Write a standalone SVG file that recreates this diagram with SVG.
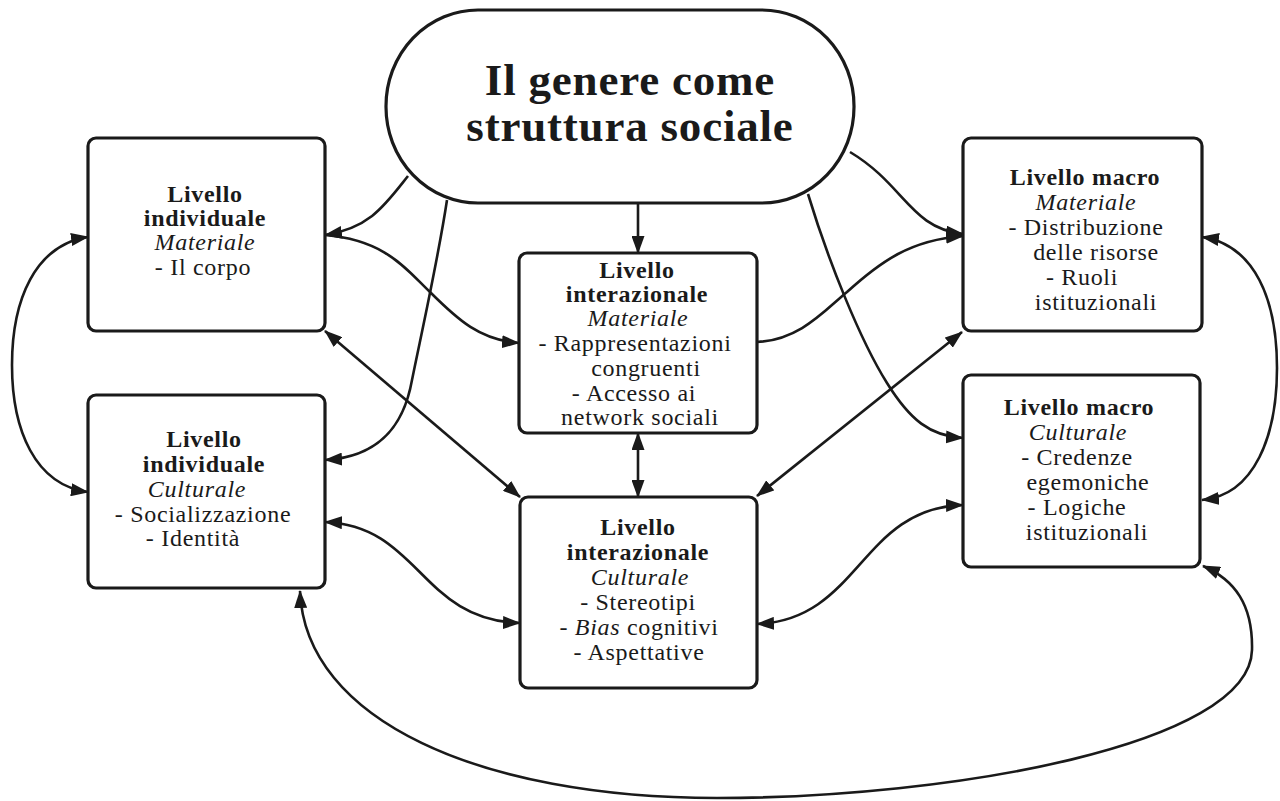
<svg xmlns="http://www.w3.org/2000/svg" width="1280" height="801" viewBox="0 0 1280 801">
<style>
  .box { fill: #ffffff; stroke: #1a1a1a; stroke-width: 3.2; }
  .conn { fill: none; stroke: #1a1a1a; stroke-width: 2.6; }
  .t { font-family: "Liberation Serif", "Times New Roman", serif; font-size: 24px; letter-spacing: 0.7px; fill: #1a1a1a; text-anchor: middle; }
  .b { font-weight: bold; }
  .i { font-style: italic; }
  .title { font-family: "Liberation Serif", "Times New Roman", serif; font-size: 45px; letter-spacing: 0.8px; font-weight: bold; fill: #1a1a1a; text-anchor: middle; }
</style>
<defs>
  <marker id="ah" viewBox="0 0 18 13" refX="17" refY="6.5" markerWidth="18" markerHeight="13" markerUnits="userSpaceOnUse" orient="auto-start-reverse">
    <path d="M0,0 L18,6.5 L0,13 z" fill="#1a1a1a"/>
  </marker>
</defs>
<rect width="1280" height="801" fill="#ffffff"/>

<g id="connectors">
  <path class="conn" d="M408,176 C385,205 370,228 325,235" marker-end="url(#ah)"/>
  <path class="conn" d="M447,200 C438,260 420,340 412,380 C404,425 380,457 325,460" marker-end="url(#ah)"/>
  <path class="conn" d="M638,203 L638,253" marker-end="url(#ah)"/>
  <path class="conn" d="M850,152 C905,185 910,228 963,234" marker-end="url(#ah)"/>
  <path class="conn" d="M808,194 C828,260 860,340 887,383 C910,420 930,436 963,438" marker-end="url(#ah)"/>
  <path class="conn" d="M325,235 C385,240 405,268 430,292 C458,320 480,340 519,343" marker-end="url(#ah)"/>
  <path class="conn" d="M325,331 L520,497" marker-start="url(#ah)" marker-end="url(#ah)"/>
  <path class="conn" d="M325,522 C420,526 420,620 520,623" marker-start="url(#ah)" marker-end="url(#ah)"/>
  <path class="conn" d="M300,591 C305,720 480,798 717,798 C950,798 1250,745 1252,650 C1253,605 1235,580 1203,566" marker-start="url(#ah)" marker-end="url(#ah)"/>
  <path class="conn" d="M88,237 C35,245 12,300 12,365 C12,430 35,485 88,492" marker-start="url(#ah)" marker-end="url(#ah)"/>
  <path class="conn" d="M1202,237 C1255,245 1277,300 1277,368 C1277,435 1255,495 1202,500" marker-start="url(#ah)" marker-end="url(#ah)"/>
  <path class="conn" d="M757,342 C800,340 825,310 847,292 C880,262 910,240 963,236" marker-end="url(#ah)"/>
  <path class="conn" d="M757,496 L962,332" marker-start="url(#ah)" marker-end="url(#ah)"/>
  <path class="conn" d="M757,624 C860,620 860,508 963,505" marker-start="url(#ah)" marker-end="url(#ah)"/>
  <path class="conn" d="M638,433 L638,497" marker-start="url(#ah)" marker-end="url(#ah)"/>
</g>

<g id="title">
  <rect class="box" x="386" y="10" width="468" height="193" rx="92" ry="96"/>
  <text class="title" x="630" y="95">Il genere come</text>
  <text class="title" x="630" y="141">struttura sociale</text>
</g>

<g id="ind-mat">
  <rect class="box" x="88" y="138" width="237" height="193" rx="8"/>
  <text class="t b" x="205" y="202">Livello</text>
  <text class="t b" x="205" y="226">individuale</text>
  <text class="t i" x="205" y="250">Materiale</text>
  <text class="t" x="203" y="275">-  Il corpo</text>
</g>

<g id="ind-cul">
  <rect class="box" x="88" y="395" width="237" height="193" rx="8"/>
  <text class="t b" x="204" y="447">Livello</text>
  <text class="t b" x="204" y="472">individuale</text>
  <text class="t i" x="197" y="497">Culturale</text>
  <text class="t" x="203" y="522">-  Socializzazione</text>
  <text class="t" x="193" y="546">-  Identità</text>
</g>

<g id="int-mat">
  <rect class="box" x="519" y="253" width="238" height="180" rx="8"/>
  <text class="t b" x="637" y="278">Livello</text>
  <text class="t b" x="637" y="302">interazionale</text>
  <text class="t i" x="638" y="326">Materiale</text>
  <text class="t" x="635" y="351">-  Rappresentazioni</text>
  <text class="t" x="646" y="376">congruenti</text>
  <text class="t" x="634" y="401">-  Accesso ai</text>
  <text class="t" x="640" y="425">network sociali</text>
</g>

<g id="int-cul">
  <rect class="box" x="520" y="497" width="237" height="191" rx="8"/>
  <text class="t b" x="638" y="535">Livello</text>
  <text class="t b" x="638" y="560">interazionale</text>
  <text class="t i" x="640" y="585">Culturale</text>
  <text class="t" x="638" y="610">-  Stereotipi</text>
  <text class="t" x="639" y="635">-  <tspan class="i">Bias</tspan> cognitivi</text>
  <text class="t" x="639" y="660">-  Aspettative</text>
</g>

<g id="mac-mat">
  <rect class="box" x="963" y="138" width="239" height="193" rx="8"/>
  <text class="t b" x="1085" y="185">Livello macro</text>
  <text class="t i" x="1086" y="210">Materiale</text>
  <text class="t" x="1086" y="235">-  Distribuzione</text>
  <text class="t" x="1096" y="260">delle risorse</text>
  <text class="t" x="1082" y="285">-  Ruoli</text>
  <text class="t" x="1096" y="310">istituzionali</text>
</g>

<g id="mac-cul">
  <rect class="box" x="963" y="375" width="237" height="192" rx="8"/>
  <text class="t b" x="1079" y="415">Livello macro</text>
  <text class="t i" x="1078" y="440">Culturale</text>
  <text class="t" x="1077" y="465">-  Credenze</text>
  <text class="t" x="1088" y="490">egemoniche</text>
  <text class="t" x="1077" y="515">-  Logiche</text>
  <text class="t" x="1087" y="540">istituzionali</text>
</g>
</svg>
